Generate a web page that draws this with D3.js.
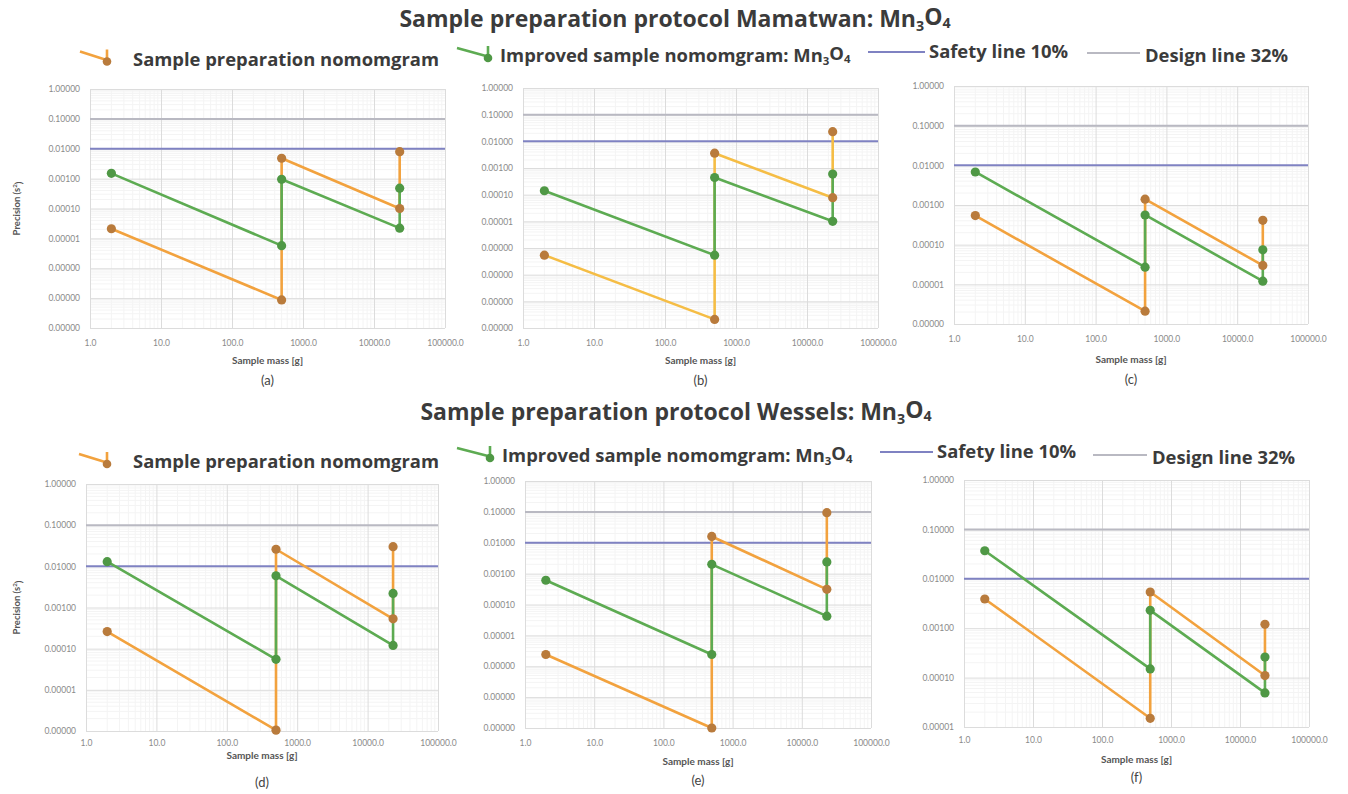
<!DOCTYPE html>
<html><head><meta charset="utf-8">
<script src="https://cdn.jsdelivr.net/npm/d3@7"></script>
<style>body{margin:0;background:#fff} svg{display:block}</style>
</head><body>
<svg id="chart" width="1348" height="794"></svg>
<script>
// ---------- data ----------
const massPoints = [2, 500, 500, 23000, 23000];
const panelTags = ["(a)", "(b)", "(c)", "(d)", "(e)", "(f)"];
const nomogramValues = [
  [2.1e-5, 8.7e-8, 4.8e-3, 1.0e-4, 8.0e-3],
  [5.4e-7, 2.1e-9, 3.6e-3, 7.7e-5, 2.3e-2],
  [5.4e-4, 2.1e-6, 1.4e-3, 3.0e-5, 4.1e-4],
  [2.6e-4, 1.05e-6, 2.6e-2, 5.3e-4, 3.0e-2],
  [2.4e-6, 1.0e-8, 1.6e-2, 3.1e-4, 9.4e-2],
  [3.9e-3, 1.5e-5, 5.4e-3, 1.1e-4, 1.2e-3]
];
const improvedValues = [
  [1.5e-3, 5.7e-6, 9.5e-4, 2.2e-5, 4.8e-4],
  [1.4e-4, 5.4e-7, 4.4e-4, 1.0e-5, 5.9e-4],
  [6.8e-3, 2.7e-5, 5.6e-4, 1.2e-5, 7.4e-5],
  [1.3e-2, 5.5e-5, 5.9e-3, 1.2e-4, 2.2e-3],
  [6.1e-4, 2.4e-6, 2.0e-3, 4.2e-5, 2.4e-3],
  [3.7e-2, 1.5e-4, 2.3e-3, 4.9e-5, 2.6e-4]
];
const safetyLine = 0.01;
const designLine = 0.1;
const yAxisMin = [1e-8, 1e-9, 1e-6, 1e-6, 1e-8, 1e-5];
const yAxisMax = 1;
const xAxisDomain = [1, 100000];
const xTickValues = [1, 10, 100, 1000, 10000, 100000];
const rowTitles = ["Sample preparation protocol Mamatwan: ", "Sample preparation protocol Wessels: "];
const legendNames = ["Sample preparation nomomgram", "Improved sample nomomgram: ", "Safety line 10%", "Design line 32%"];
const xAxisTitle = "Sample mass [g]";
const yAxisTitle = "Precision (s";

// ---------- layout / style ----------
const FONT = "Lato, 'Open Sans', sans-serif";
const FONT2 = "'Open Sans', Lato, sans-serif";
const TEXT = "#3b3b3b";
const C = {
  orangeLine: "#f2a23e", orangeLineB: "#f5bd45", orangeMark: "#b97b3c",
  greenLine: "#5dab52", greenMark: "#4f9845",
  safety: "#7f82c2", design: "#b9b9c2",
  grid: "#dcdcdc", minor: "#f4f4f4"
};
const layout = [
  {l: 90,  r: 445,  t: 89,  b: 328, tick: 22, title: 36, tag: 57},
  {l: 523, r: 878,  t: 88,  b: 328, tick: 22, title: 36, tag: 57},
  {l: 954, r: 1308, t: 86,  b: 324, tick: 22, title: 39, tag: 60},
  {l: 86,  r: 438,  t: 484, b: 731, tick: 19, title: 28, tag: 56},
  {l: 525, r: 871,  t: 481, b: 728, tick: 22, title: 37, tag: 57},
  {l: 964, r: 1309, t: 480, b: 727, tick: 20, title: 36, tag: 55}
];

const svg = d3.select("#chart");
const yFmt = d3.format(".5f");
const xFmt = d3.format(".1f");

function subText(sel, base, sub1, sub2) {
  sel.append("tspan").text(base + "Mn");
  sel.append("tspan").attr("font-size", "62%").attr("dy", "0.25em").text(sub1);
  sel.append("tspan").attr("dy", "-0.25em").text("O");
  sel.append("tspan").attr("font-size", "62%").attr("dy", "0.25em").text(sub2);
}

layout.forEach((L, i) => {
  const g = svg.append("g");
  const x = d3.scaleLog().domain(xAxisDomain).range([L.l, L.r]);
  const y = d3.scaleLog().domain([yAxisMin[i], yAxisMax]).range([L.b, L.t]);

  // minor grid
  const minorX = [];
  for (let d = 1; d < 100000; d *= 10) for (let k = 2; k <= 9; k++) minorX.push(d * k);
  const minorY = [];
  for (let d = yAxisMin[i]; d < 1 - 1e-12; d *= 10) for (let k = 2; k <= 9; k++) minorY.push(d * k);
  g.selectAll(".mx").data(minorX).join("line")
    .attr("x1", d => x(d)).attr("x2", d => x(d)).attr("y1", L.t).attr("y2", L.b)
    .attr("stroke", C.minor).attr("stroke-width", 1);
  g.selectAll(".my").data(minorY).join("line")
    .attr("y1", d => y(d)).attr("y2", d => y(d)).attr("x1", L.l).attr("x2", L.r)
    .attr("stroke", C.minor).attr("stroke-width", 1);

  // major grid + axes via d3.axis
  const yTicks = y.ticks().filter(v => Math.abs(Math.log10(v) - Math.round(Math.log10(v))) < 1e-9);
  const xAxis = d3.axisBottom(x).tickValues(xTickValues).tickFormat(xFmt).tickSize(-(L.b - L.t)).tickPadding(L.tick - 8);
  const yAxis = d3.axisLeft(y).tickValues(yTicks).tickFormat(yFmt).tickSize(-(L.r - L.l)).tickPadding(10);
  const gx = g.append("g").attr("transform", `translate(0,${L.b})`).call(xAxis);
  const gy = g.append("g").attr("transform", `translate(${L.l},0)`).call(yAxis);
  [gx, gy].forEach(a => {
    a.select(".domain").remove();
    a.selectAll(".tick line").attr("stroke", C.grid).attr("stroke-width", 1);
    a.selectAll(".tick text").attr("fill", "#8a8a8a").attr("font-family", FONT).attr("font-size", 8.5);
  });
  gx.selectAll(".tick text").attr("dy", "0.5em");

  // reference lines
  [[safetyLine, C.safety], [designLine, C.design]].forEach(([v, col]) => {
    g.append("line").attr("x1", x(xAxisDomain[0])).attr("x2", x(xAxisDomain[1]))
      .attr("y1", y(v)).attr("y2", y(v)).attr("stroke", col).attr("stroke-width", 2);
  });

  // series
  const line = d3.line().x((d, j) => x(massPoints[j])).y(d => y(d));
  const series = [
    {vals: nomogramValues[i], lc: i === 1 ? C.orangeLineB : C.orangeLine, mc: C.orangeMark},
    {vals: improvedValues[i], lc: C.greenLine, mc: C.greenMark}
  ];
  series.forEach(s => {
    g.append("path").attr("d", line(s.vals)).attr("fill", "none")
      .attr("stroke", s.lc).attr("stroke-width", 2.6).attr("stroke-linejoin", "round");
  });
  series.forEach(s => {
    g.selectAll(null).data(s.vals).join("circle")
      .attr("cx", (d, j) => x(massPoints[j])).attr("cy", d => y(d)).attr("r", 4.6)
      .attr("fill", s.mc);
  });

  // axis titles
  const cx = (L.l + L.r) / 2;
  g.append("text").attr("x", cx).attr("y", L.b + L.title).attr("text-anchor", "middle")
    .attr("font-family", FONT).attr("font-weight", 700).attr("font-size", 10).attr("fill", "#555")
    .text(xAxisTitle);
  g.append("text").attr("x", cx).attr("y", L.b + L.tag).attr("text-anchor", "middle")
    .attr("font-family", FONT).attr("font-size", 13).attr("fill", "#444")
    .text(panelTags[i]);
  if (i % 3 === 0) {
    const yt = g.append("text").attr("transform", `translate(20,${(L.t + L.b) / 2}) rotate(-90)`)
      .attr("text-anchor", "middle").attr("font-family", FONT).attr("font-weight", 700)
      .attr("font-size", 9.5).attr("fill", "#555");
    yt.append("tspan").text(yAxisTitle);
    yt.append("tspan").attr("font-size", "65%").attr("dy", "-0.45em").text("2");
    yt.append("tspan").attr("dy", "0.45em").text(")");
  }
});

// row titles
[[675, 27, 0], [676, 420, 1]].forEach(([cx, cy, k]) => {
  const t = svg.append("text").attr("x", cx).attr("y", cy).attr("text-anchor", "middle")
    .attr("font-family", FONT2).attr("font-weight", 700).attr("font-size", 23).attr("fill", TEXT);
  subText(t, rowTitles[k], "3", "4");
});

// legends
const legendRows = [
  {o: [80, 107, 65.5], g: [457, 488, 62], s: [868, 925, 58], d: [1087, 1140, 62]},
  {o: [79, 107, 468],  g: [457, 490, 462], s: [880, 933, 458], d: [1093, 1147, 464]}
];
legendRows.forEach(R => {
  const icon = (xa, xb, by, lc, mc) => {
    svg.append("path").attr("d", `M${xa},${by - 14} L${xb - 2},${by - 6} M${xb},${by - 16} L${xb},${by - 4}`)
      .attr("stroke", lc).attr("stroke-width", 2.6).attr("fill", "none");
    svg.append("circle").attr("cx", xb).attr("cy", by - 4).attr("r", 4.3).attr("fill", mc);
  };
  icon(R.o[0], R.o[1], R.o[2], C.orangeLine, C.orangeMark);
  icon(R.g[0], R.g[1], R.g[2], C.greenLine, C.greenMark);
  const txt = (xx, yy) => svg.append("text").attr("x", xx).attr("y", yy)
    .attr("font-family", FONT2).attr("font-weight", 700).attr("font-size", 18.4).attr("fill", TEXT);
  txt(R.o[1] + 26, R.o[2]).text(legendNames[0]);
  subText(txt(R.g[1] + 12, R.g[2]), legendNames[1], "3", "4");
  svg.append("line").attr("x1", R.s[0]).attr("x2", R.s[1]).attr("y1", R.s[2] - 6).attr("y2", R.s[2] - 6)
    .attr("stroke", C.safety).attr("stroke-width", 2);
  txt(R.s[1] + 4, R.s[2]).text(legendNames[2]);
  svg.append("line").attr("x1", R.d[0]).attr("x2", R.d[1]).attr("y1", R.d[2] - 9).attr("y2", R.d[2] - 9)
    .attr("stroke", C.design).attr("stroke-width", 2);
  txt(R.d[1] + 5, R.d[2]).text(legendNames[3]);
});
</script>
</body></html>
